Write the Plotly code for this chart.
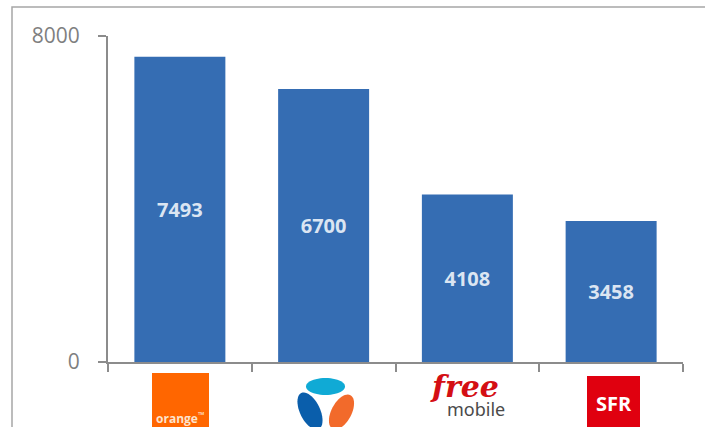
import numpy as np
import plotly.graph_objects as go

# ---- data ----
operators = ["Orange", "Bouygues Telecom", "Free Mobile", "SFR"]
values = [7493, 6700, 4108, 3458]
y_ticks = [0, 8000]

# ---- geometry (pixels) ----
W, H = 705, 427
L, R, T, B = 108, 22, 36, 65
PW, PH = W - L - R, H - T - B


def px(x):
    return (x - L) / PW


def py(y):
    return (H - B - y) / PH


AX = "#8c8c8c"
fig = go.Figure()
fig.add_trace(go.Bar(
    x=operators, y=values,
    marker=dict(color="#356db3", line=dict(width=0)),
    text=[str(v) for v in values],
    textposition="inside", insidetextanchor="middle", textangle=0,
    textfont=dict(family="Open Sans", size=20, color="#dbe5f2", weight="bold"),
    hoverinfo="skip",
))

shapes = []
annotations = []

# outer frame
shapes.append(dict(type="rect", xref="paper", yref="paper",
                   x0=px(12), x1=px(740), y0=py(7), y1=py(470),
                   line=dict(color="#a6a6a6", width=1.5), layer="below"))

# --- Orange logo ---
shapes.append(dict(type="rect", xref="paper", yref="paper",
                   x0=px(152), x1=px(209), y0=py(373), y1=py(440),
                   line=dict(width=0), fillcolor="#ff6600"))
annotations.append(dict(xref="paper", yref="paper", x=px(154), y=py(418),
                        xanchor="left", yanchor="middle", showarrow=False,
                        text="orange<sup>™</sup>",
                        font=dict(family="Open Sans", size=12, color="#fde3cc", weight="bold")))


# --- Bouygues logo (ellipses) ---
def ellipse_path(cx, cy, rx, ry, ang_deg, n=48):
    t = np.linspace(0, 2 * np.pi, n, endpoint=False)
    a = np.deg2rad(ang_deg)
    xs = cx + rx * np.cos(t) * np.cos(a) - ry * np.sin(t) * np.sin(a)
    ys = cy + rx * np.cos(t) * np.sin(a) + ry * np.sin(t) * np.cos(a)
    pts = [f"{px(x):.5f},{py(y):.5f}" for x, y in zip(xs, ys)]
    return "M" + " L".join(pts) + " Z"


shapes.append(dict(type="path", xref="paper", yref="paper",
                   path=ellipse_path(325.5, 386.5, 19.5, 8.5, 0),
                   fillcolor="#10aad5", line=dict(width=0)))
shapes.append(dict(type="path", xref="paper", yref="paper",
                   path=ellipse_path(310, 411, 20, 10, 64),
                   fillcolor="#0a5eab", line=dict(width=0)))
shapes.append(dict(type="path", xref="paper", yref="paper",
                   path=ellipse_path(341.5, 412, 19, 10, -62),
                   fillcolor="#f26a2b", line=dict(width=0)))

# --- Free mobile logo ---
annotations.append(dict(xref="paper", yref="paper", x=px(464), y=py(386),
                        xanchor="center", yanchor="middle", showarrow=False,
                        text="<i>free</i>",
                        font=dict(family="DejaVu Serif", size=30, color="#d40f14", weight="bold")))
annotations.append(dict(xref="paper", yref="paper", x=px(476), y=py(409),
                        xanchor="center", yanchor="middle", showarrow=False,
                        text="mobile",
                        font=dict(family="Noto Sans", size=18, color="#4a4a4a")))

# --- SFR logo ---
shapes.append(dict(type="rect", xref="paper", yref="paper",
                   x0=px(587), x1=px(640), y0=py(376), y1=py(440),
                   line=dict(width=0), fillcolor="#e0000f"))
annotations.append(dict(xref="paper", yref="paper", x=px(614), y=py(403),
                        xanchor="center", yanchor="middle", showarrow=False,
                        text="SFR",
                        font=dict(family="Open Sans", size=20, color="#ffffff", weight="bold")))

fig.update_layout(
    width=W, height=H,
    margin=dict(l=L, r=R, t=T, b=B, pad=0),
    paper_bgcolor="white", plot_bgcolor="white",
    bargap=0.367,
    showlegend=False,
    shapes=shapes,
    annotations=annotations,
    xaxis=dict(
        showline=True, linecolor=AX, linewidth=2,
        ticks="outside", tickson="boundaries", ticklen=8, tickwidth=2, tickcolor=AX,
        showticklabels=False, showgrid=False, zeroline=False, fixedrange=True,
    ),
    yaxis=dict(
        range=[0, 8000], tickvals=y_ticks,
        showline=True, linecolor=AX, linewidth=2,
        ticks="outside", ticklen=8, tickwidth=2, tickcolor=AX,
        showgrid=True, gridcolor=AX, gridwidth=2, zeroline=False,
        tickfont=dict(family="Open Sans", size=21, color="#7f7f7f"),
        ticklabelstandoff=14, fixedrange=True,
    ),
)

fig.write_html("out.html", config={"displayModeBar": False},
               post_script="document.body.style.margin='0px';document.body.style.overflow='hidden';")
